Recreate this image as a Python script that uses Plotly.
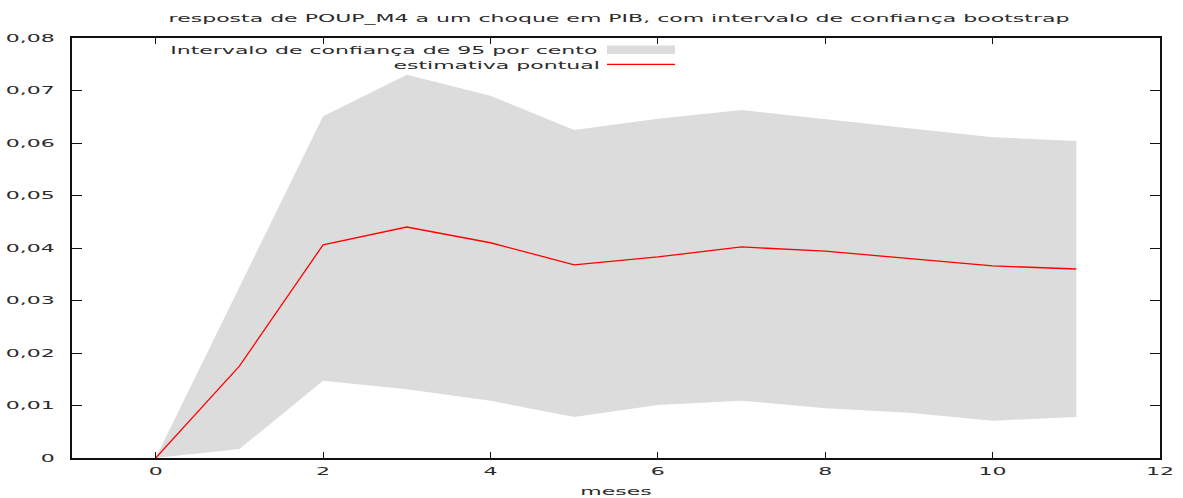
import plotly.graph_objects as go

# Impulse response of POUP_M4 to a shock in PIB (months 0..11)
meses = list(range(12))
estimativa = [0.0, 0.0175, 0.0406, 0.0440, 0.0410, 0.0368, 0.0383, 0.0402, 0.0394, 0.0380, 0.0366, 0.0360]
ic_superior = [0.0, 0.0326, 0.0651, 0.0730, 0.0690, 0.0625, 0.0646, 0.0663, 0.0645, 0.0628, 0.0611, 0.0604]
ic_inferior = [0.0, 0.0017, 0.0147, 0.0131, 0.0109, 0.0078, 0.0101, 0.0109, 0.0095, 0.0086, 0.0071, 0.0078]

y_ticks = [0, 0.01, 0.02, 0.03, 0.04, 0.05, 0.06, 0.07, 0.08]
y_ticklabels = ["0", "0,01", "0,02", "0,03", "0,04", "0,05", "0,06", "0,07", "0,08"]
x_ticks = [0, 2, 4, 6, 8, 10, 12]

titulo = "resposta de POUP_M4 a um choque em PIB, com intervalo de confiança bootstrap"
leg_ic = "Intervalo de confiança de 95 por cento"
leg_est = "estimativa pontual"

FONT = "DejaVu Sans"
FSIZE = 11
BAND = "#dcdcdc"
TXT = "#2b2b2b"
TEXT_STRETCH = 2.0   # wide, horizontally stretched lettering

fig = go.Figure()
fig.add_trace(go.Scatter(x=meses, y=ic_inferior, mode="lines", line=dict(width=0),
                         showlegend=False, hoverinfo="skip"))
fig.add_trace(go.Scatter(x=meses, y=ic_superior, mode="lines", line=dict(width=0),
                         fill="tonexty", fillcolor=BAND, showlegend=False, hoverinfo="skip"))
fig.add_trace(go.Scatter(x=meses, y=estimativa, mode="lines", line=dict(color="#ff0000", width=1.3),
                         showlegend=False))

# gnuplot-style key: text right-aligned, sample on the right
fig.add_annotation(x=0.2872, y=0.971, xref="paper", yref="paper", text=leg_ic,
                   showarrow=False, xanchor="center", yanchor="middle",
                   font=dict(family=FONT, size=FSIZE, color=TXT))
fig.add_annotation(x=0.3902, y=0.935, xref="paper", yref="paper", text=leg_est,
                   showarrow=False, xanchor="center", yanchor="middle",
                   font=dict(family=FONT, size=FSIZE, color=TXT))
fig.add_shape(type="rect", xref="paper", yref="paper", x0=0.4917, x1=0.5542,
              y0=0.962, y1=0.982, fillcolor=BAND, line=dict(width=0))
fig.add_shape(type="line", xref="paper", yref="paper", x0=0.4917, x1=0.5542,
              y0=0.937, y1=0.937, line=dict(color="#ff0000", width=1.2))

axis_common = dict(showline=True, linecolor="#111111", mirror="ticks",
                   ticks="inside", tickcolor="#111111",
                   showgrid=False, zeroline=False, automargin=False,
                   tickfont=dict(family=FONT, size=FSIZE, color=TXT))

fig.update_layout(
    width=1183, height=498,
    margin=dict(l=72, r=23, t=38, b=40),
    paper_bgcolor="white", plot_bgcolor="white",
    title=dict(text=titulo, x=619 / 1183, xanchor="center", y=0.964, yanchor="middle",
               font=dict(family=FONT, size=FSIZE, color=TXT)),
    xaxis=dict(range=[-1, 12], tickvals=x_ticks, ticklen=6, tickwidth=1.3, linewidth=1.5,
               ticklabelstandoff=2,
               title=dict(text="meses", font=dict(family=FONT, size=FSIZE, color=TXT), standoff=10),
               **axis_common),
    yaxis=dict(range=[0, 0.08], tickvals=y_ticks, ticktext=y_ticklabels,
               ticklen=10, tickwidth=1.3, linewidth=2,
               ticklabelstandoff=13, **axis_common),
    showlegend=False,
)

# Widen every text element horizontally around its own anchor
stretch_js = """
var gd = document.getElementById('{plot_id}');
gd.querySelectorAll('svg text').forEach(function(t) {
    var w = t.getComputedTextLength();
    if (w > 0) {
        t.setAttribute('textLength', (w * %s).toFixed(2));
        t.setAttribute('lengthAdjust', 'spacingAndGlyphs');
    }
});
""" % TEXT_STRETCH

fig.write_html("out.html", post_script=stretch_js)
